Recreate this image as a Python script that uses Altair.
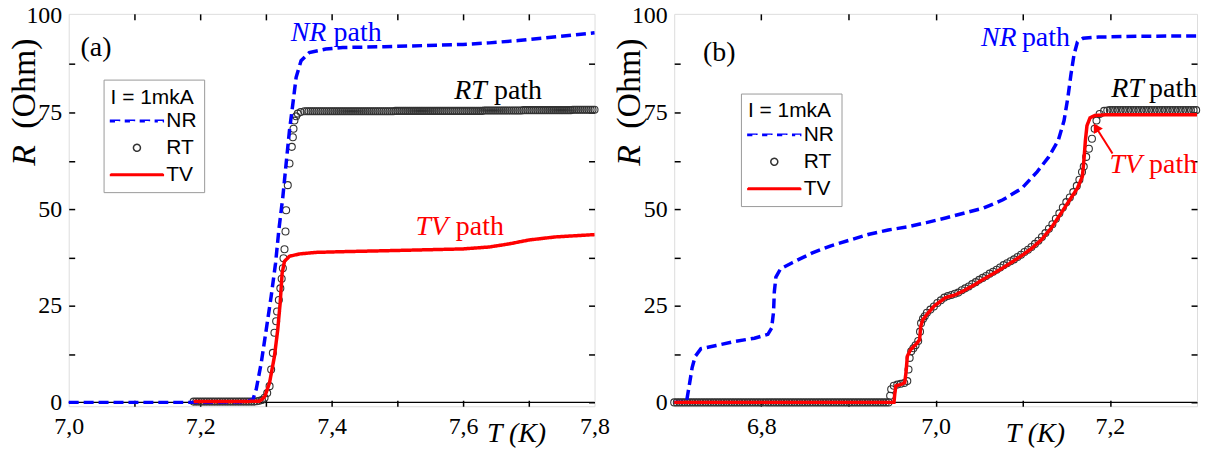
import altair as alt
import pandas as pd

BLUE = "#0000ff"
RED = "#ff0000"
GRAY = "#333333"
SERIES = ["NR", "RT", "TV"]
SERIF = "Liberation Serif"
SANS = "Liberation Sans"

# ---------------- panel (a) ----------------
A_NR_T = [7.000, 7.100, 7.200, 7.260, 7.280, 7.2853, 7.2929, 7.3005, 7.308, 7.3147, 7.3197,
          7.3258, 7.3308, 7.3359, 7.341, 7.346, 7.3535, 7.366, 7.391, 7.417, 7.48, 7.54,
          7.60, 7.64, 7.684, 7.742, 7.800]
A_NR_R = [0.0, 0.0, 0.0, 0.1, 0.6, 3.4, 10.2, 18.8, 27.4, 36.0, 44.6,
          53.2, 61.8, 70.4, 77.2, 84.1, 88.4, 90.5, 91.4, 91.8, 92.0, 92.3,
          92.6, 93.0, 93.6, 94.6, 95.6]

A_TV_T = [7.190, 7.250, 7.290, 7.295, 7.2985, 7.3056, 7.313, 7.318, 7.3217, 7.3247, 7.3283,
          7.3359, 7.351, 7.376, 7.42, 7.50, 7.60, 7.64, 7.67, 7.70, 7.74, 7.80]
A_TV_R = [0.2, 0.2, 0.3, 0.9, 1.6, 5.1, 11.9, 18.8, 25.7, 33.4, 36.5,
          37.8, 38.4, 38.8, 39.0, 39.3, 39.7, 40.2, 41.0, 42.0, 42.8, 43.4]

# RT: dense open circles
A_RT_T = [7.190, 7.194, 7.198, 7.202, 7.206, 7.210, 7.214, 7.218, 7.222, 7.226, 7.230,
          7.234, 7.238, 7.242, 7.246, 7.250, 7.254, 7.258, 7.262, 7.266, 7.270, 7.274,
          7.278, 7.282, 7.286, 7.290, 7.294, 7.298, 7.302,
          7.3056, 7.308, 7.3106, 7.313, 7.3156, 7.317, 7.3197, 7.322, 7.324, 7.3258, 7.3268,
          7.3283, 7.3298, 7.3308, 7.3333, 7.3359, 7.3394, 7.341, 7.342, 7.3434, 7.346,
          7.3485, 7.353, 7.3586]
A_RT_R = [0.2, 0.2, 0.2, 0.2, 0.2, 0.2, 0.2, 0.2, 0.2, 0.2, 0.2,
          0.2, 0.2, 0.2, 0.2, 0.2, 0.2, 0.2, 0.2, 0.2, 0.2, 0.2,
          0.2, 0.2, 0.3, 0.4, 0.6, 1.2, 2.4,
          4.2, 8.5, 12.8, 18.0, 21.0, 23.5, 26.5, 29.5, 32.0, 34.7, 37.3,
          39.6, 44.2, 49.7, 56.2, 61.8, 66.1, 68.6, 70.8, 72.9, 74.0,
          74.7, 75.1, 75.3]
A_RT_PLATEAU_T0 = 7.362
A_RT_PLATEAU_STEP = 0.003
A_RT_PLATEAU_R = [75.3, 75.3, 75.3, 75.3, 75.3, 75.3, 75.3, 75.3, 75.3, 75.3,
                  75.3, 75.3, 75.3, 75.3, 75.3, 75.3, 75.3, 75.3, 75.3, 75.3,
                  75.3, 75.3, 75.3, 75.3, 75.3, 75.3, 75.3, 75.3, 75.3, 75.3,
                  75.3, 75.3, 75.3, 75.3, 75.3, 75.3, 75.3, 75.3, 75.3, 75.3,
                  75.3, 75.3, 75.3, 75.3, 75.3, 75.4, 75.4, 75.4, 75.4, 75.4,
                  75.4, 75.4, 75.4, 75.4, 75.4, 75.4, 75.4, 75.4, 75.4, 75.4,
                  75.4, 75.4, 75.4, 75.4, 75.4, 75.4, 75.4, 75.4, 75.4, 75.4,
                  75.4, 75.4, 75.4, 75.4, 75.4, 75.4, 75.4, 75.4, 75.4, 75.4,
                  75.4, 75.4, 75.4, 75.4, 75.4, 75.4, 75.4, 75.4, 75.4, 75.4,
                  75.5, 75.5, 75.5, 75.5, 75.5, 75.5, 75.5, 75.5, 75.5, 75.5,
                  75.5, 75.5, 75.5, 75.5, 75.5, 75.5, 75.5, 75.5, 75.5, 75.5,
                  75.6, 75.6, 75.6, 75.6, 75.6, 75.6, 75.6, 75.6, 75.6, 75.6,
                  75.6, 75.6, 75.6, 75.6, 75.6, 75.6, 75.6, 75.6, 75.6, 75.6,
                  75.6, 75.6, 75.6, 75.6, 75.6, 75.7, 75.7, 75.7, 75.7, 75.7,
                  75.7, 75.7, 75.7, 75.7, 75.7, 75.7, 75.7]

# ---------------- panel (b) ----------------
B_NR_T = [6.700, 6.714, 6.7175, 6.7206, 6.7241, 6.7307, 6.7482, 6.7702, 6.7921, 6.8075,
          6.8118, 6.814, 6.8149, 6.8167, 6.8219, 6.836, 6.8579, 6.8798, 6.9018, 6.9237,
          6.9456, 6.9675, 6.9895, 7.0114, 7.0333, 7.0553, 7.0772, 7.0991, 7.1167, 7.1298,
          7.1408, 7.1474, 7.1518, 7.1553, 7.1588, 7.1627, 7.1693, 7.1868, 7.2307, 7.300]
B_NR_R = [0.0, 0.0, 4.7, 9.0, 11.9, 13.9, 14.7, 15.8, 16.6, 17.6,
          19.2, 23.4, 28.6, 32.4, 34.5, 36.2, 38.6, 40.5, 42.0, 43.5,
          44.6, 45.4, 46.5, 47.7, 49.0, 50.3, 52.4, 55.4, 59.7, 63.5,
          67.8, 72.9, 78.9, 84.8, 89.9, 93.2, 94.2, 94.5, 94.7, 94.8]

B_TV_T = [6.700, 6.800, 6.900, 6.9522, 6.9531, 6.9544, 6.961, 6.9645, 6.9662, 6.9675,
          6.9711, 6.9785, 6.9816, 6.9829, 6.9851, 6.9895, 6.9982, 7.0114, 7.0224, 7.0333,
          7.0443, 7.0553, 7.0662, 7.0772, 7.0882, 7.0991, 7.1101, 7.1211, 7.132, 7.143,
          7.154, 7.1627, 7.1684, 7.1702, 7.1719, 7.1737, 7.1772, 7.1825, 7.1956, 7.2526, 7.300]
B_TV_R = [0.0, 0.0, 0.0, 0.0, 2.1, 4.3, 4.7, 5.1, 8.1, 11.9,
          13.6, 15.3, 16.2, 19.6, 21.3, 22.6, 24.9, 27.1, 27.8, 29.0,
          30.4, 31.9, 33.3, 34.8, 36.4, 38.0, 39.8, 42.0, 44.9, 48.6,
          52.4, 55.4, 58.4, 62.7, 67.8, 71.6, 73.6, 74.2, 74.4, 74.4, 74.4]

B_RT_FLAT_T0 = 6.700
B_RT_FLAT_STEP = 0.003
B_RT_FLAT_R = [0.0] * 83
B_RT_T = [6.9478, 6.949, 6.952, 6.956, 6.960, 6.964, 6.9675, 6.9689, 6.9702, 6.972,
          6.9745, 6.977, 6.980, 6.9821, 6.9833, 6.9855, 6.9875,
          6.990, 6.994, 6.998, 7.002, 7.006, 7.010, 7.014, 7.018, 7.022, 7.026,
          7.030, 7.034, 7.038, 7.042, 7.046, 7.050, 7.054, 7.058, 7.062, 7.066,
          7.070, 7.074, 7.078, 7.082, 7.086, 7.090, 7.094, 7.098, 7.102, 7.106,
          7.110, 7.114, 7.118, 7.122, 7.126, 7.130, 7.134, 7.138, 7.142, 7.146,
          7.150, 7.154, 7.158, 7.162, 7.165, 7.168, 7.170, 7.1728, 7.1759, 7.1794,
          7.1825, 7.1846, 7.1882, 7.1934]
B_RT_R = [1.7, 3.4, 4.3, 4.6, 4.8, 5.0, 5.5, 8.5, 11.5, 13.2,
          14.0, 14.8, 15.9, 18.3, 20.5, 21.6, 22.3,
          23.2, 24.0, 24.8, 25.7, 26.4, 27.1, 27.5, 27.8, 28.1, 28.4,
          29.0, 29.5, 30.0, 30.6, 31.1, 31.7, 32.2, 32.7, 33.3, 33.8,
          34.3, 34.9, 35.5, 36.0, 36.5, 37.0, 37.6, 38.2, 38.9, 39.5,
          40.2, 41.0, 41.8, 42.8, 43.8, 44.9, 46.1, 47.5, 48.9, 50.4,
          51.8, 53.0, 54.4, 56.0, 57.6, 59.6, 61.0, 63.5, 65.6, 68.2,
          70.8, 72.9, 74.6, 75.4]
B_RT_PLATEAU_T0 = 7.197
B_RT_PLATEAU_STEP = 0.003
B_RT_PLATEAU_R = [75.5, 75.6, 75.6, 75.6, 75.6, 75.6, 75.6, 75.6, 75.6, 75.6,
                  75.6, 75.6, 75.6, 75.6, 75.6, 75.6, 75.6, 75.6, 75.6, 75.6,
                  75.6, 75.6, 75.6, 75.6, 75.6, 75.6, 75.6, 75.6, 75.6, 75.6,
                  75.6, 75.6, 75.6, 75.6, 75.6]

# ---------------- axes / ticks ----------------
A_XDOM = [7.0, 7.8]
B_XDOM = [6.7, 7.3]
YDOM = [-1.0, 100.5]
A_XLABELS = [7.0, 7.2, 7.4, 7.6, 7.8]
A_XTICKS = [7.1, 7.2, 7.3, 7.4, 7.5, 7.6, 7.7]
B_XLABELS = [6.8, 7.0, 7.2]
B_XTICKS = [6.8, 6.9, 7.0, 7.1, 7.2]
YLABELS = [0, 25, 50, 75, 100]
YTICKS = [0, 12.5, 25, 37.5, 50, 62.5, 75, 87.5]

# annotations (label, T, R, align, style, color)
A_TEXT = [("NR", 7.392, 93.6, "right", "italic", BLUE), ("path", 7.403, 93.6, "left", "normal", BLUE),
          ("RT", 7.636, 78.6, "right", "italic", "black"), ("path", 7.647, 78.6, "left", "normal", "black"),
          ("TV", 7.577, 43.3, "right", "italic", RED), ("path", 7.589, 43.3, "left", "normal", RED),
          ("(a)", 7.018, 89.7, "left", "normal", "black")]
B_TEXT = [("NR", 7.093, 92.3, "right", "italic", BLUE), ("path", 7.099, 92.3, "left", "normal", BLUE),
          ("RT", 7.239, 78.9, "right", "italic", "black"), ("path", 7.245, 78.9, "left", "normal", "black"),
          ("TV", 7.237, 59.3, "right", "italic", RED), ("path", 7.245, 59.3, "left", "normal", RED),
          ("(b)", 6.733, 88.4, "left", "normal", "black")]
B_ARROW = {"T": 7.203, "R": 64.4, "T2": 7.185, "R2": 70.8}

# legend symbol shapes (unit space; symbol size 100 -> 1 unit = 5 px)
DASH_PATH = ("M-5.3,-0.15H-3.5V0.15H-5.3Z M-2.3,-0.15H-0.5V0.15H-2.3Z "
             "M0.7,-0.15H2.5V0.15H0.7Z M3.7,-0.15H5.3V0.15H3.7Z")
LINE_PATH = "M-5.3,-0.15H5.3V0.15H-5.3Z"
CIRCLE_PATH = "M-0.7,0A0.7,0.7 0 1,0 0.7,0A0.7,0.7 0 1,0 -0.7,0Z"

H = 394
WA = 528
WB = 525


def dense(t0, step, rvals):
    return [round(t0 + i * step, 4) for i in range(len(rvals))]


def scale_x(dom):
    return alt.Scale(domain=dom, nice=False, zero=False)


YSCALE = alt.Scale(domain=YDOM, nice=False, zero=False)


def legend_props(lx, ly):
    return dict(
        title="I = 1mkA", orient="none", legendX=lx, legendY=ly,
        titleFont=SANS, titleFontSize=21, titleFontWeight="normal", titleColor="black",
        labelFont=SANS, labelFontSize=21, labelColor="black",
        padding=7, strokeColor="#999999", fillColor="white",
        rowPadding=5, labelOffset=19, symbolOffset=16, titlePadding=3,
        symbolSize=100, symbolStrokeWidth=1.5, symbolFillColor="transparent",
    )


def panel(nr_df, tv_df, rt_df, xdom, xlabels, xticks, text_rows, W, leg_xy, arrow=None, xtitle_x=420):
    xs = scale_x(xdom)
    leg = alt.Legend(**legend_props(*leg_xy))
    color = alt.Color("series:N", scale=alt.Scale(domain=SERIES, range=[BLUE, GRAY, RED]), legend=leg)
    dash = alt.StrokeDash("series:N", scale=alt.Scale(domain=SERIES, range=[[10, 5], [1, 0], [1, 0]]), legend=None)
    shape = alt.Shape("series:N", scale=alt.Scale(domain=SERIES, range=[DASH_PATH, CIRCLE_PATH, LINE_PATH]), legend=leg)

    no_x = alt.X("T:Q", scale=xs, axis=None)
    no_y = alt.Y("R:Q", scale=YSCALE, axis=None)

    zero = alt.Chart(pd.DataFrame({"R": [0.0]})).mark_rule(color="black", strokeWidth=1.3).encode(
        y=alt.Y("R:Q", scale=YSCALE, axis=None))

    rt = alt.Chart(rt_df).mark_point(filled=False, opacity=1, size=100, strokeWidth=1.1).encode(
        x=no_x, y=no_y, color=color, shape=shape)

    main_x = alt.X("T:Q", scale=xs, axis=alt.Axis(
        orient="bottom", values=xlabels, ticks=False, domain=False, grid=False, title=None,
        labelExpr="replace(format(datum.value, '.1f'), '.', ',')",
        labelFont=SERIF, labelFontSize=24, labelColor="black", labelPadding=8,
        labelFlush=False, labelOverlap=False))
    main_y = alt.Y("R:Q", scale=YSCALE, axis=alt.Axis(
        orient="left", values=YLABELS, ticks=False, domain=False, grid=False, title=None,
        format="d", labelFont=SERIF, labelFontSize=24, labelColor="black", labelPadding=7,
        labelFlush=False, labelOverlap=False))

    lines = alt.Chart(pd.concat([nr_df, tv_df])).mark_line(strokeCap="butt", strokeWidth=3.5).encode(
        x=main_x, y=main_y, color=color, strokeDash=dash,
        detail="series:N", order="idx:Q")

    def tick_axis_layer(xorient, xoff, yorient, yoff):
        return alt.Chart(pd.DataFrame({"T": xdom, "R": YDOM})).mark_point(opacity=0).encode(
            x=alt.X("T:Q", scale=xs, axis=alt.Axis(
                orient=xorient, offset=xoff, values=xticks, labels=False, domain=False, grid=False,
                ticks=True, tickSize=6, tickWidth=1.5, tickColor="black", title=None)),
            y=alt.Y("R:Q", scale=YSCALE, axis=alt.Axis(
                orient=yorient, offset=yoff, values=YTICKS, labels=False, domain=False, grid=False,
                ticks=True, tickSize=6, tickWidth=1.5, tickColor="black", title=None)))

    ticks_bl = tick_axis_layer("top", -H, "right", -W)   # inward ticks at bottom and left
    ticks_tr = tick_axis_layer("bottom", -H, "left", -W)  # inward ticks at top and right

    layers = [zero, rt, lines, ticks_bl, ticks_tr]

    for label, t, r, align, style, col in text_rows:
        layers.append(alt.Chart(pd.DataFrame({"T": [t], "R": [r], "label": [label]})).mark_text(
            font=SERIF, fontSize=28, fontStyle=style, align=align, baseline="alphabetic", color=col
        ).encode(x=no_x, y=no_y, text="label:N"))

    if arrow is not None:
        adf = pd.DataFrame([arrow])
        layers.append(alt.Chart(adf).mark_rule(color=RED, strokeWidth=2).encode(
            x=no_x, y=no_y, x2="T2:Q", y2="R2:Q"))
        layers.append(alt.Chart(adf).mark_point(shape="triangle", filled=True, color=RED, size=110,
                                                angle=329, opacity=1).encode(
            x=alt.X("T2:Q", scale=xs, axis=None), y=alt.Y("R2:Q", scale=YSCALE, axis=None)))

    # axis titles (mixed italic / upright)
    layers.append(alt.Chart(pd.DataFrame({"t": ["R"]})).mark_text(
        font=SERIF, fontSize=34, fontStyle="italic", angle=270, align="center", baseline="middle",
        color="black").encode(x=alt.value(-44), y=alt.value(142), text="t:N"))
    layers.append(alt.Chart(pd.DataFrame({"t": ["(Ohm)"]})).mark_text(
        font=SERIF, fontSize=34, angle=270, align="center", baseline="middle",
        color="black").encode(x=alt.value(-44), y=alt.value(70), text="t:N"))
    layers.append(alt.Chart(pd.DataFrame({"t": ["T (K)"]})).mark_text(
        font=SERIF, fontSize=28, fontStyle="italic", align="left", baseline="middle",
        color="black").encode(x=alt.value(xtitle_x), y=alt.value(422), text="t:N"))

    return alt.layer(*layers).resolve_axis(x="independent", y="independent").properties(width=W, height=H)


def frame(T, R, name):
    return pd.DataFrame({"T": T, "R": R, "series": name, "idx": range(len(T))})


a_rt = frame(A_RT_T + dense(A_RT_PLATEAU_T0, A_RT_PLATEAU_STEP, A_RT_PLATEAU_R),
             A_RT_R + A_RT_PLATEAU_R, "RT")
b_rt = frame(dense(B_RT_FLAT_T0, B_RT_FLAT_STEP, B_RT_FLAT_R) + B_RT_T + dense(B_RT_PLATEAU_T0, B_RT_PLATEAU_STEP, B_RT_PLATEAU_R),
             B_RT_FLAT_R + B_RT_R + B_RT_PLATEAU_R, "RT")

pa = panel(frame(A_NR_T, A_NR_R, "NR"), frame(A_TV_T, A_TV_R, "TV"), a_rt,
           A_XDOM, A_XLABELS, A_XTICKS, A_TEXT, WA, (35, 66), xtitle_x=420)
pb = panel(frame(B_NR_T, B_NR_R, "NR"), frame(B_TV_T, B_TV_R, "TV"), b_rt,
           B_XDOM, B_XLABELS, B_XTICKS, B_TEXT, WB, (67, 80), arrow=B_ARROW, xtitle_x=333)

chart = alt.hconcat(pa, pb, spacing=80, bounds="flush").resolve_scale(
    color="independent", shape="independent", strokeDash="independent"
).resolve_legend(
    color="independent", shape="independent", strokeDash="independent"
).properties(
    padding={"left": 7, "top": 2, "right": 0, "bottom": 0}
).configure_view(stroke="black", strokeWidth=1.5).configure(background="white", font=SERIF)

chart.save("out.html", embed_options={"renderer": "svg", "actions": False})
